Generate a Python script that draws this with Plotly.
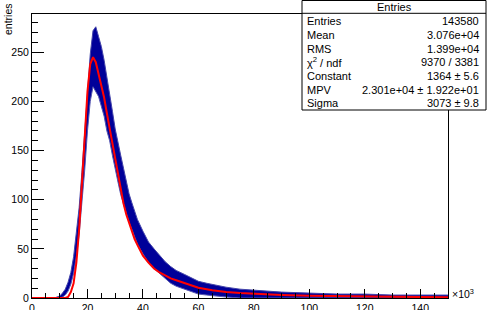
import plotly.graph_objects as go

# ---------------- data (x in units of 10^3) ----------------
band_x = [8, 9, 10, 11, 12, 13, 14, 15, 16, 17, 18, 19, 20, 21, 22, 23, 24, 25, 26, 27,
          28, 29, 30, 31, 32, 33, 34, 35, 36, 37, 38, 40, 42, 44, 46, 48, 50, 52, 55, 58,
          60, 63, 66, 70, 75, 80, 85, 90, 100, 110, 120, 130, 140, 150]
band_lo = [0, 0, 0, 1, 3, 7, 14, 25, 42, 65, 95, 130, 170, 200, 215, 210, 205, 195, 185, 170,
           160, 145, 130, 118, 105, 95, 85, 77, 70, 62, 55, 45, 36, 30, 25, 20, 15, 12, 9, 6,
           4, 3, 2, 1, 0, 0, 0, 0, 0, 0, 0, 0, 0, 0]
band_hi = [0, 1, 2, 5, 9, 16, 26, 42, 65, 92, 128, 165, 210, 248, 272, 276, 266, 256, 242, 226,
           206, 190, 172, 160, 145, 132, 118, 106, 97, 88, 80, 68, 57, 50, 43, 37, 32, 28, 24, 20,
           17, 15, 13, 11, 9, 8, 7, 6, 5, 4, 4, 3, 3, 3]

fit_x = [0, 10, 12, 13, 14, 15, 16, 17, 18, 19, 20, 21, 22, 23, 24, 25, 26, 27, 28, 29, 30,
         31, 32, 33, 34, 35, 36, 37, 38, 40, 42, 44, 46, 48, 50, 52, 55, 60, 65, 70, 75, 80,
         90, 100, 110, 120, 130, 140, 150]
fit_y = [0, 0, 0, 1, 6, 15, 36, 70, 115, 160, 210, 238, 245, 240, 228, 215, 204, 188, 172, 158, 140,
         124, 108, 96, 85, 76, 68, 60, 54, 43, 36, 30, 26, 23, 20, 18, 15, 10.5, 8, 6, 5, 4.2,
         3.1, 2.4, 1.9, 1.5, 1.2, 1.0, 0.8]

x_ticks = [0, 20, 40, 60, 80, 100, 120, 140]
y_ticks = [0, 50, 100, 150, 200, 250]

stats_labels = ["Entries", "Mean", "RMS", "χ<sup>2</sup> / ndf", "Constant", "MPV", "Sigma"]
stats_values = ["143580", "3.076e+04", "1.399e+04", "9370 / 3381", "1364 ± 5.6",
                "2.301e+04 ± 1.922e+01", "3073 ± 9.8"]

# ---------------- layout geometry (pixels) ----------------
W, H = 495, 310
L, R, T, B = 32, 448, 14, 298
FONT = "Liberation Sans, Arial, sans-serif"
NAVY = "#000099"


def px(x):
    return (x - L) / (R - L)


def py(y):
    return (B - y) / (B - T)


fig = go.Figure()

# histogram band (lower edge, then upper edge filled to it)
fig.add_trace(go.Scatter(x=band_x, y=band_lo, mode="lines",
                         line=dict(color="#5555b0", width=1), hoverinfo="skip",
                         showlegend=False))
fig.add_trace(go.Scatter(x=band_x, y=band_hi, mode="lines", fill="tonexty",
                         fillcolor=NAVY, line=dict(color="#4444aa", width=1),
                         hoverinfo="skip", showlegend=False))
# fit curve
fig.add_trace(go.Scatter(x=fit_x, y=fit_y, mode="lines",
                         line=dict(color="#ff0000", width=2), showlegend=False))

axis_common = dict(showline=True, linecolor="black", linewidth=1, mirror=True,
                   showgrid=False, zeroline=False, ticks="inside", tickcolor="black",
                   automargin=False,
                   tickfont=dict(family=FONT, size=10.5, color="black"))

fig.update_xaxes(range=[0, 150], tickvals=x_ticks, ticklen=9,
                 minor=dict(ticks="inside", dtick=5, tick0=0, ticklen=5, tickcolor="black",
                            showgrid=False),
                 **axis_common)
fig.update_yaxes(range=[0, 289], tickvals=y_ticks, ticklen=12,
                 minor=dict(ticks="inside", dtick=10, tick0=0, ticklen=6, tickcolor="black",
                            showgrid=False),
                 **axis_common)

annotations = []
shapes = []

# y axis title
annotations.append(dict(text="entries", textangle=-90, xref="paper", yref="paper",
                        x=px(8), y=py(1), xanchor="center", yanchor="top", showarrow=False,
                        font=dict(family=FONT, size=10.5, color="black")))
# x10^3 label
annotations.append(dict(text="×10<sup>3</sup>", xref="paper", yref="paper",
                        x=px(450), y=py(293), xanchor="left", yanchor="middle",
                        showarrow=False, font=dict(family=FONT, size=10.5, color="black")))

# stats box
bx0, bx1, by0, by1, hy = 302, 486, 110, 0.5, 13.3
shapes.append(dict(type="rect", xref="paper", yref="paper", x0=px(bx0), x1=px(bx1),
                   y0=py(by0), y1=py(by1), fillcolor="white",
                   line=dict(color="black", width=1), layer="above"))
shapes.append(dict(type="line", xref="paper", yref="paper", x0=px(bx0), x1=px(bx1),
                   y0=py(hy), y1=py(hy), line=dict(color="black", width=1), layer="above"))
annotations.append(dict(text="Entries", xref="paper", yref="paper", x=px((bx0 + bx1) / 2),
                        y=py(7), xanchor="center", yanchor="middle", showarrow=False,
                        font=dict(family=FONT, size=11, color="black")))
row_y = [21, 35, 49, 62, 76, 90, 103]
for lab, val, ry in zip(stats_labels, stats_values, row_y):
    annotations.append(dict(text=lab, xref="paper", yref="paper", x=px(305), y=py(ry),
                            xanchor="left", yanchor="middle", showarrow=False,
                            font=dict(family=FONT, size=11, color="black")))
    annotations.append(dict(text=val, xref="paper", yref="paper", x=px(481), y=py(ry),
                            xanchor="right", yanchor="middle", showarrow=False,
                            font=dict(family=FONT, size=11, color="black")))

fig.update_layout(width=W, height=H, autosize=False,
                  margin=dict(l=L, r=W - R, t=T, b=H - B, pad=0, autoexpand=False),
                  paper_bgcolor="white", plot_bgcolor="white",
                  annotations=annotations, shapes=shapes,
                  font=dict(family=FONT, color="black"))

fig.write_html("out.html",
               config={"displayModeBar": False, "staticPlot": True},
               post_script="document.body.style.margin='0';"
                           "document.body.style.overflow='hidden';")
